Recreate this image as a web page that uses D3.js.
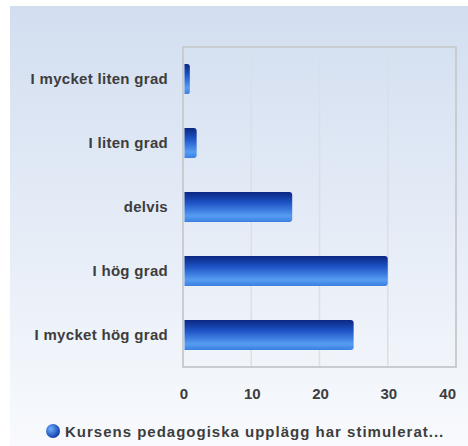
<!DOCTYPE html>
<html>
<head>
<meta charset="utf-8">
<script src="https://cdn.jsdelivr.net/npm/d3@7"></script>
<style>
  html, body { margin: 0; padding: 0; background: #fff; }
  svg { display: block; }
  text { font-family: "Liberation Sans", Arial, sans-serif; font-weight: bold; fill: #3d3d3d; }
</style>
</head>
<body>
<svg id="chart" width="468" height="446"></svg>
<script>
// categorias e valores
const categorias = ["I mycket liten grad", "I liten grad", "delvis", "I hög grad", "I mycket hög grad"];
const valores = [1, 2, 16, 30, 25];
const ticksX = [0, 10, 20, 30, 40];
const legenda = "Kursens pedagogiska upplägg har stimulerat...";

const largura = 468, altura = 446;
const margem = { left: 183, right: 12, top: 47, bottom: 79 };

const svg = d3.select("#chart");
const defs = svg.append("defs");

// fundo em degradê
const fundo = defs.append("linearGradient").attr("id", "fundo")
    .attr("x1", 0).attr("y1", 0).attr("x2", 0).attr("y2", 1);
fundo.append("stop").attr("offset", "0%").attr("stop-color", "#d2def0");
fundo.append("stop").attr("offset", "100%").attr("stop-color", "#f8fafd");

// degradê das barras
const gradBarra = defs.append("linearGradient").attr("id", "barra")
    .attr("x1", 0).attr("y1", 0).attr("x2", 0).attr("y2", 1);
gradBarra.append("stop").attr("offset", "0%").attr("stop-color", "#0b2680");
gradBarra.append("stop").attr("offset", "35%").attr("stop-color", "#1d52c4");
gradBarra.append("stop").attr("offset", "80%").attr("stop-color", "#559df2");
gradBarra.append("stop").attr("offset", "100%").attr("stop-color", "#3a7fe0");

const gradBola = defs.append("radialGradient").attr("id", "bola")
    .attr("cx", "35%").attr("cy", "35%").attr("r", "70%");
gradBola.append("stop").attr("offset", "0%").attr("stop-color", "#6fb0ff");
gradBola.append("stop").attr("offset", "100%").attr("stop-color", "#0c38a8");

svg.append("rect")
    .attr("x", 10).attr("y", 6)
    .attr("width", largura - 10).attr("height", altura - 6)
    .attr("fill", "url(#fundo)");

const x = d3.scaleLinear()
    .domain([0, 40])
    .range([margem.left, largura - margem.right]);

const y = d3.scaleBand()
    .domain(categorias)
    .range([margem.top, altura - margem.bottom])
    .paddingInner(0.53)
    .paddingOuter(0.265);

const topo = margem.top, base = altura - margem.bottom;

// linhas de grade
svg.append("g").selectAll("line")
    .data(ticksX.slice(1, -1))
    .join("line")
    .attr("x1", d => x(d)).attr("x2", d => x(d))
    .attr("y1", topo).attr("y2", base)
    .attr("stroke", "#dcdfe4").attr("stroke-width", 1.5);

// borda da área
svg.append("rect")
    .attr("x", x(0)).attr("y", topo)
    .attr("width", x(40) - x(0)).attr("height", base - topo)
    .attr("fill", "none")
    .attr("stroke", "#c9ccd1").attr("stroke-width", 2);

// barras
svg.append("g").selectAll("path")
    .data(valores)
    .join("path")
    .attr("d", (d, i) => {
        const x0 = x(0) + 1.5, x1 = x(d), y0 = y(categorias[i]), h = y.bandwidth();
        const r = Math.min(3, (x1 - x0) / 2);
        return `M${x0},${y0} H${x1 - r} Q${x1},${y0} ${x1},${y0 + r} V${y0 + h - r} Q${x1},${y0 + h} ${x1 - r},${y0 + h} H${x0} Z`;
    })
    .attr("fill", "url(#barra)");

// rótulos das categorias
svg.append("g").selectAll("text")
    .data(categorias)
    .join("text")
    .attr("x", 168)
    .attr("y", d => y(d) + y.bandwidth() / 2)
    .attr("dy", "0.35em")
    .attr("text-anchor", "end")
    .attr("font-size", 15)
    .attr("letter-spacing", 0.3)
    .text(d => d);

// rótulos do eixo x
svg.append("g").selectAll("text")
    .data(ticksX)
    .join("text")
    .attr("x", d => d === 40 ? x(d) : x(d) + 1)
    .attr("y", 399)
    .attr("text-anchor", d => d === 40 ? "end" : "middle")
    .attr("font-size", 15)
    .text(d => d);

// legenda
svg.append("circle")
    .attr("cx", 53).attr("cy", 431).attr("r", 7)
    .attr("fill", "url(#bola)");

svg.append("text")
    .attr("x", 65).attr("y", 437)
    .attr("font-size", 15)
    .attr("letter-spacing", 1)
    .text(legenda);
</script>
</body>
</html>
